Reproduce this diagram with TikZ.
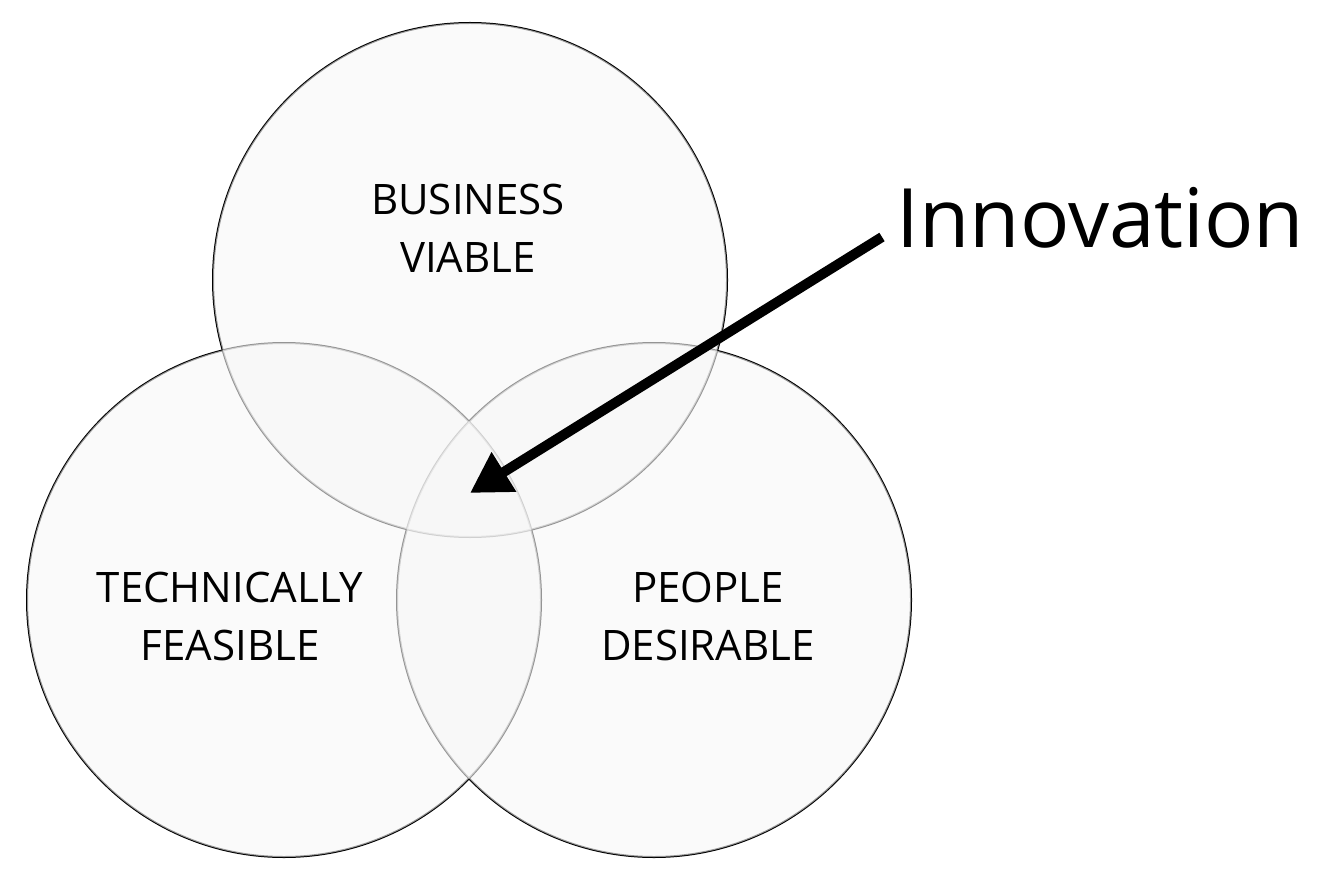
\documentclass[tikz,border=0pt]{standalone}
\usepackage{fontspec}
\setmainfont{Open Sans}
\usetikzlibrary{arrows.meta}
\begin{document}
\begin{tikzpicture}[x=1pt,y=-1pt,
  ring/.style={draw=black,line width=2pt},
  shade/.style={fill=black!3,fill opacity=0.6},
  lab/.style={font=\fontsize{42}{58}\selectfont,align=center}]
\useasboundingbox (0,0) rectangle (1319,885);
\coordinate (ct) at (470,280);
\coordinate (cl) at (284,600);
\coordinate (cr) at (654,600);
\foreach \c in {ct,cl,cr} \draw[ring] (\c) circle (257);
\foreach \c in {ct,cl,cr} \fill[shade] (\c) circle (257);
\node[lab] (bv) at (468,228) {BUSINESS\\VIABLE};
\node[lab] (tf) at (230,616) {TECHNICALLY\\FEASIBLE};
\node[lab] (pd) at (708,616) {PEOPLE\\DESIRABLE};
\node[font=\fontsize{82}{96}\selectfont,anchor=west] (inn) at (893,218) {Innovation};
\coordinate (tip) at (470,493);
\coordinate (st) at (882,237);
\draw[line width=10pt,-{Triangle[length=40pt,width=44pt]}] (st) -- (tip);
\end{tikzpicture}
\end{document}
